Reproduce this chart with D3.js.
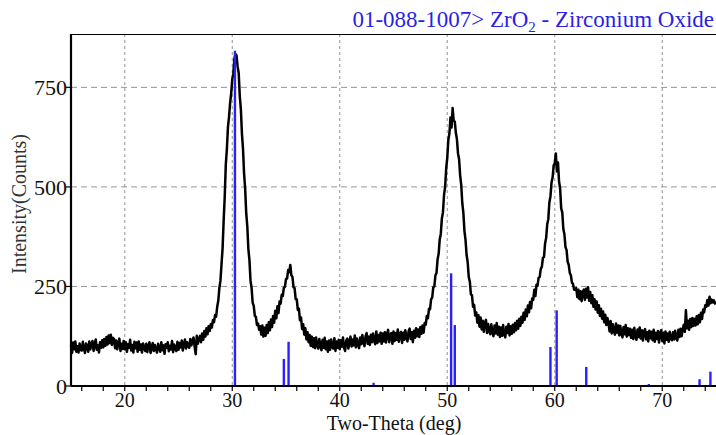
<!DOCTYPE html>
<html>
<head>
<meta charset="utf-8">
<script src="https://cdn.jsdelivr.net/npm/d3@7"></script>
<style>
  body { margin: 0; background: #fff; }
</style>
</head>
<body>
<div id="xrd"></div>
<script>
// scan: two-theta from 15 to 75 deg, step 0.1
var scanStart = 15;
var scanStep = 0.1;
// intensity (counts), one row per degree (15.x, 16.x, ...)
var counts = [
  103, 83, 109, 92, 112, 86, 100, 84, 107, 90,
  89, 111, 94, 83, 107, 100, 86, 112, 92, 106,
  113, 88, 104, 117, 91, 102, 84, 110, 96, 115,
  97, 118, 101, 123, 104, 127, 108, 129, 103, 121,
  118, 95, 114, 92, 109, 119, 88, 106, 93, 113,
  92, 110, 86, 105, 96, 116, 89, 103, 84, 111,
  95, 109, 86, 112, 91, 104, 84, 107, 97, 88,
  106, 85, 101, 110, 83, 97, 108, 88, 103, 92,
  84, 106, 95, 86, 110, 90, 102, 81, 105, 96,
  110, 87, 101, 92, 113, 85, 104, 95, 88, 111,
  91, 108, 97, 114, 89, 105, 117, 94, 110, 100,
  96, 118, 102, 113, 122, 99, 80, 126, 106, 119,
  126, 110, 132, 116, 138, 124, 145, 130, 150, 138,
  155, 147, 166, 160, 178, 174, 199, 214, 246, 264,
  305, 345, 415, 475, 556, 595, 650, 676, 710, 735,
  770, 785, 822, 834, 830, 802, 786, 728, 696, 634,
  596, 534, 496, 434, 401, 344, 316, 264, 246, 209,
  201, 176, 174, 153, 157, 141, 150, 129, 152, 124,
  146, 126, 153, 133, 160, 140, 167, 148, 176, 159,
  189, 170, 200, 183, 212, 207, 229, 226, 247, 249,
  269, 270, 291, 286, 304, 278, 274, 248, 246, 218,
  218, 191, 194, 165, 172, 143, 155, 129, 145, 117,
  135, 110, 128, 101, 124, 98, 120, 95, 122, 101,
  94, 118, 101, 90, 116, 96, 121, 92, 112, 86,
  114, 91, 117, 98, 94, 120, 88, 112, 96, 116,
  92, 115, 99, 122, 96, 88, 114, 119, 94, 111,
  124, 99, 117, 102, 127, 97, 119, 104, 95, 122,
  105, 128, 109, 100, 125, 133, 106, 124, 103, 129,
  110, 132, 114, 105, 137, 108, 128, 112, 134, 106,
  132, 112, 135, 109, 130, 141, 110, 127, 133, 106,
  137, 113, 133, 116, 142, 111, 131, 136, 108, 134,
  116, 140, 121, 112, 137, 144, 118, 135, 110, 139,
  121, 145, 125, 142, 123, 148, 131, 152, 134, 158,
  154, 176, 170, 194, 193, 218, 222, 248, 250, 278,
  284, 318, 332, 368, 382, 421, 436, 480, 499, 546,
  572, 618, 634, 674, 649, 698, 666, 664, 636, 620,
  584, 570, 529, 505, 459, 435, 389, 367, 329, 311,
  274, 262, 230, 228, 199, 204, 177, 185, 159, 178,
  149, 172, 142, 164, 136, 159, 166, 133, 156, 139,
  130, 155, 134, 125, 152, 132, 158, 129, 149, 123,
  147, 126, 153, 130, 122, 149, 133, 156, 127, 150,
  131, 154, 135, 158, 140, 164, 144, 169, 151, 174,
  159, 184, 166, 192, 175, 202, 185, 211, 195, 220,
  216, 242, 226, 254, 252, 272, 274, 294, 299, 322,
  324, 358, 372, 406, 419, 461, 476, 511, 524, 554,
  559, 584, 539, 561, 514, 496, 446, 436, 394, 381,
  349, 341, 312, 304, 284, 278, 260, 256, 242, 242,
  246, 223, 242, 218, 238, 213, 236, 242, 216, 244,
  222, 248, 214, 236, 208, 228, 199, 218, 192, 212,
  184, 203, 176, 194, 169, 187, 160, 179, 153, 171,
  158, 137, 163, 132, 155, 138, 129, 157, 134, 152,
  127, 151, 131, 122, 148, 130, 153, 124, 145, 128,
  144, 121, 141, 118, 146, 125, 116, 142, 123, 147,
  119, 140, 114, 137, 143, 117, 135, 112, 139, 120,
  136, 115, 141, 111, 134, 118, 138, 109, 133, 140,
  113, 134, 107, 137, 116, 132, 111, 136, 118, 115,
  135, 117, 139, 120, 114, 141, 123, 144, 125, 142,
  154, 136, 190, 145, 164, 141, 168, 148, 171, 151,
  169, 152, 175, 155, 178, 160, 184, 168, 192, 185,
  203, 199, 216, 202, 224, 208, 217, 210, 215, 207,
  212
];

// reference pattern 01-088-1007 (ZrO2) stick lines
var refAngles = [30.25, 34.8, 35.24, 43.15, 50.36, 50.7, 53.95, 59.6, 60.18, 62.93, 68.75, 73.47, 74.48];
var refCounts = [842, 68, 111, 8, 283, 153, 2, 98, 190, 48, 5, 17, 36];

var xTicks = [20, 30, 40, 50, 60, 70];
var xMinor = d3.range(16, 76, 2);
var yTicks = [0, 250, 500, 750];

var svgWidth = 716;
var svgHeight = 435;
var margin = {top: 34, right: 0, bottom: 49, left: 71},
width = svgWidth - margin.left - margin.right,
height = svgHeight - margin.top - margin.bottom;

var svg = d3.select("#xrd")
	.append("svg")
		.attr("width", svgWidth)
		.attr("height", svgHeight)
		.attr("font-family", "'Liberation Serif', 'Times New Roman', 'DejaVu Serif', serif")
	.append("g")
		.attr("transform", `translate(${margin.left},${margin.top})`);

var scan = counts.map(function(c, i) { return {t: scanStart + i * scanStep, c: c}; });

var x = d3.scaleLinear()
	.domain([15, 75])
	.range([0, width]);

var y = d3.scaleLinear()
	.domain([0, 884])
	.range([height, 0]);

// grid
svg.append("g")
	.selectAll("line")
	.data(xTicks)
	.join("line")
		.attr("x1", d => x(d)).attr("x2", d => x(d))
		.attr("y1", 0).attr("y2", height)
		.attr("stroke", "#777")
		.attr("stroke-width", 0.8)
		.attr("stroke-dasharray", "3,3");
svg.append("g")
	.selectAll("line")
	.data(yTicks.slice(1))
	.join("line")
		.attr("x1", 0).attr("x2", width)
		.attr("y1", d => y(d)).attr("y2", d => y(d))
		.attr("stroke", "#888")
		.attr("stroke-width", 0.9)
		.attr("stroke-dasharray", "6,4");

// top border
svg.append("line")
	.attr("x1", 0).attr("x2", width)
	.attr("y1", 0.5).attr("y2", 0.5)
	.attr("stroke", "#000")
	.attr("stroke-width", 1);

// measured scan
svg.append("path")
	.datum(scan)
	.attr("fill", "none")
	.attr("stroke", "#000")
	.attr("stroke-width", 2.5)
	.attr("stroke-linejoin", "round")
	.attr("d", d3.line()
		.x(function(d) { return x(d.t) })
		.y(function(d) { return y(d.c) })
	);

// reference sticks
svg.append("g")
	.selectAll("line")
	.data(refAngles)
	.join("line")
		.attr("x1", d => x(d)).attr("x2", d => x(d))
		.attr("y1", height)
		.attr("y2", (d, i) => y(refCounts[i]))
		.attr("stroke", "#2b1fff")
		.attr("stroke-width", 2.4);

// axes
var xAxis = svg.append("g")
	.attr("transform", `translate(0, ${height})`);
xAxis.selectAll("line.minor")
	.data(xMinor)
	.join("line")
		.attr("class", "minor")
		.attr("x1", d => x(d)).attr("x2", d => x(d))
		.attr("y1", 0).attr("y2", 5)
		.attr("stroke", "#000")
		.attr("stroke-width", 1.2);
xAxis.selectAll("text")
	.data(xTicks)
	.join("text")
		.attr("x", d => x(d))
		.attr("y", 21)
		.attr("text-anchor", "middle")
		.attr("font-size", 20)
		.attr("fill", "#111")
		.text(d => d);
xAxis.append("line")
	.attr("x1", 0).attr("x2", width)
	.attr("y1", 0).attr("y2", 0)
	.attr("stroke", "#000")
	.attr("stroke-width", 1.8);

var yAxis = svg.append("g");
yAxis.selectAll("line")
	.data(yTicks)
	.join("line")
		.attr("x1", -5).attr("x2", 0)
		.attr("y1", d => y(d)).attr("y2", d => y(d))
		.attr("stroke", "#000")
		.attr("stroke-width", 1.2);
yAxis.selectAll("text")
	.data(yTicks)
	.join("text")
		.attr("x", -4)
		.attr("y", d => y(d))
		.attr("dy", "0.35em")
		.attr("text-anchor", "end")
		.attr("font-size", 22)
		.attr("fill", "#111")
		.text(d => d);
yAxis.append("line")
	.attr("x1", 0).attr("x2", 0)
	.attr("y1", 0).attr("y2", height)
	.attr("stroke", "#000")
	.attr("stroke-width", 2.2);

// labels
svg.append("text")
	.attr("x", 394 - margin.left)
	.attr("y", height + 44)
	.attr("text-anchor", "middle")
	.attr("font-size", 20)
	.attr("fill", "#111")
	.text("Two-Theta (deg)");

svg.append("text")
	.attr("transform", `translate(${19 - margin.left}, ${204 - margin.top}) rotate(-90)`)
	.attr("dy", "0.35em")
	.attr("text-anchor", "middle")
	.attr("font-size", 20)
	.attr("fill", "#333")
	.text("Intensity(Counts)");

var title = svg.append("text")
	.attr("x", 714 - margin.left)
	.attr("y", 27 - margin.top)
	.attr("text-anchor", "end")
	.attr("font-size", 23)
	.attr("fill", "#2b1fe6");
title.append("tspan").text("01-088-1007> ZrO");
title.append("tspan").attr("dy", 5).attr("font-size", 15).text("2");
title.append("tspan").attr("dy", -5).text(" - Zirconium Oxide");
</script>
</body>
</html>
